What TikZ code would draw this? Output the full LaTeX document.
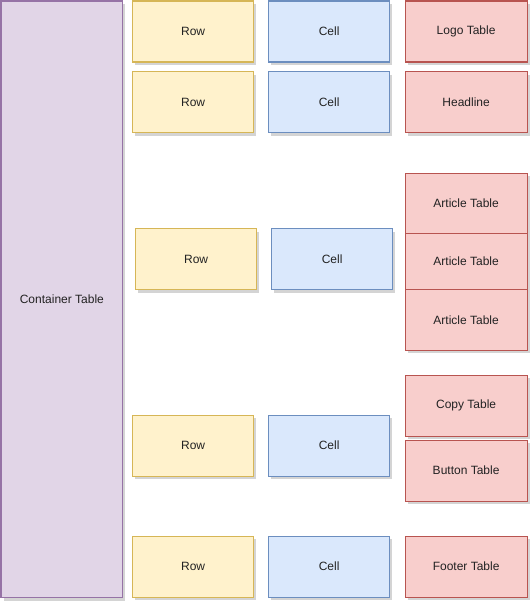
\documentclass[tikz,border=0pt]{standalone}
\usepackage{fontspec}
\setmainfont{Liberation Sans}
\usetikzlibrary{shadows}
\definecolor{pfill}{HTML}{E1D5E7}\definecolor{pdraw}{HTML}{9673A6}
\definecolor{yfill}{HTML}{FFF2CC}\definecolor{ydraw}{HTML}{D6B656}
\definecolor{bfill}{HTML}{DAE8FC}\definecolor{bdraw}{HTML}{6C8EBF}
\definecolor{rfill}{HTML}{F8CECC}\definecolor{rdraw}{HTML}{B85450}
\definecolor{txt}{HTML}{222222}
\tikzset{
  box/.style={rectangle, line width=1.2pt, inner sep=0pt, anchor=north west,
    text=txt, font=\fontsize{12}{14}\selectfont,
    drop shadow={shadow xshift=2.5pt, shadow yshift=-3pt, opacity=0.28, fill=black!60}},
  cont/.style={box, fill=pfill, draw=pdraw},
  rowbox/.style={box, fill=yfill, draw=ydraw, minimum width=121pt, minimum height=61pt},
  cellbox/.style={box, fill=bfill, draw=bdraw, minimum width=121pt, minimum height=61pt},
  tbl/.style={box, fill=rfill, draw=rdraw, minimum width=122pt}
}
\begin{document}
\begin{tikzpicture}[x=1pt,y=-1pt]
\useasboundingbox (0,0) rectangle (532,602);
\node[cont, minimum width=121.5pt, minimum height=596.5pt] (container) at (0.5,0.5) {Container Table};
% rows
\node[rowbox] (r1) at (132,0.5) {Row};
\node[rowbox] (r2) at (132,71) {Row};
\node[rowbox] (r3) at (135,228) {Row};
\node[rowbox] (r4) at (132,414.5) {Row};
\node[rowbox] (r5) at (132,535.5) {Row};
% cells
\node[cellbox] (c1) at (268,0.5) {Cell};
\node[cellbox] (c2) at (268,71) {Cell};
\node[cellbox] (c3) at (271,228) {Cell};
\node[cellbox] (c4) at (268,414.5) {Cell};
\node[cellbox] (c5) at (268,535.5) {Cell};
% tables
\node[tbl, minimum height=61pt] (logo) at (404.5,0.5) {Logo Table};
\node[tbl, minimum height=61pt] (head) at (404.5,71) {Headline};
\node[tbl, minimum height=60.5pt] (a1) at (404.5,172.5) {Article Table};
\node[tbl, minimum height=56pt] (a2) at (404.5,233) {Article Table};
\node[tbl, minimum height=60.5pt] (a3) at (404.5,289) {Article Table};
\node[tbl, minimum height=61pt] (copy) at (404.5,374.5) {Copy Table};
\node[tbl, minimum height=61pt] (button) at (404.5,439.5) {Button Table};
\node[tbl, minimum height=61pt] (footer) at (404.5,535.5) {Footer Table};
\end{tikzpicture}
\end{document}
